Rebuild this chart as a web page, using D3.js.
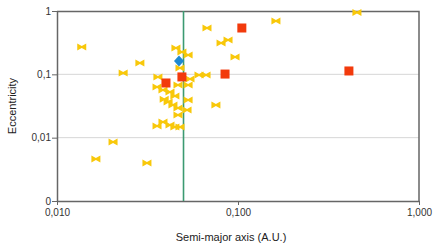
<!DOCTYPE html>
<html>
<head>
<meta charset="utf-8">
<script src="https://cdn.jsdelivr.net/npm/d3@7"></script>
<style>
	body { margin: 0; background: #fff; }
	svg { display: block; font-family: "Liberation Sans", Arial, sans-serif; }
</style>
</head>
<body>
<svg width="436" height="248"></svg>
<script>
// Yellow bowtie planets: semi-major axis (A.U.) and eccentricity
const yellowA = [0.0137, 0.0232, 0.0287, 0.0674, 0.0806, 0.0881, 0.0963, 0.162, 0.454, 0.0755,
	0.0454, 0.049, 0.053, 0.0478, 0.0361, 0.0543, 0.0609, 0.0666, 0.053, 0.0466,
	0.0357, 0.0385, 0.0421, 0.0448, 0.053, 0.0411, 0.0437, 0.0466, 0.0523, 0.0466,
	0.0357, 0.0385, 0.0421, 0.0448, 0.0478, 0.0164, 0.0204, 0.0314, 0.0391];
const yellowE = [0.27, 0.105, 0.151, 0.539, 0.312, 0.348, 0.188, 0.695, 0.95, 0.0328,
	0.261, 0.225, 0.202, 0.126, 0.0908, 0.0844, 0.0976, 0.0976, 0.0679, 0.0679,
	0.063, 0.0566, 0.0526, 0.0455, 0.0394, 0.0366, 0.0328, 0.0294, 0.0273, 0.0228,
	0.0153, 0.0177, 0.0158, 0.0147, 0.0147, 0.0046, 0.00854, 0.00398, 0.0405];

// Red squares
const redA = [0.105, 0.0848, 0.41, 0.04, 0.049];
const redE = [0.539, 0.101, 0.113, 0.073, 0.091];

// Blue diamond
const blueA = [0.0472];
const blueE = [0.162];

// Vertical reference line
const refA = 0.05;

const yTicks = [1, 0.1, 0.01, 0.001];
const yTickLabels = ["1", "0,1", "0,01", "0"];
const xTicks = [0.01, 0.1, 1];
const xTickLabels = ["0,010", "0,100", "1,000"];

const margin = { top: 11, right: 17, bottom: 47, left: 57 },
	width = 436 - margin.left - margin.right,
	height = 248 - margin.top - margin.bottom;

const svg = d3.select("svg")
	.append("g")
	.attr("transform", `translate(${margin.left},${margin.top})`);

const x = d3.scaleLog().domain([0.01, 1]).range([0, width]);
const y = d3.scaleLog().domain([0.001, 1]).range([height, 0]);

// gridlines
svg.selectAll(".grid")
	.data([0.1, 0.01])
	.join("line")
	.attr("x1", 0)
	.attr("x2", width)
	.attr("y1", (d) => y(d))
	.attr("y2", (d) => y(d))
	.attr("stroke", "#d6d6d6")
	.attr("stroke-width", 1);

// frame top/right
svg.append("path")
	.attr("d", `M0,0.5H${width}V${height}`)
	.attr("fill", "none")
	.attr("stroke", "#666")
	.attr("stroke-width", 1.5);

// axes
const yAxis = svg.append("g")
	.call(d3.axisLeft(y).tickValues(yTicks).tickSize(5).tickSizeOuter(0)
		.tickFormat((d, i) => yTickLabels[i]));
const xAxis = svg.append("g")
	.attr("transform", `translate(0,${height})`)
	.call(d3.axisBottom(x).tickValues(xTicks).tickSize(4).tickSizeOuter(0)
		.tickFormat((d, i) => xTickLabels[i]));

[yAxis, xAxis].forEach((g) => {
	g.select(".domain").attr("stroke", "#666").attr("stroke-width", 1.5);
	g.selectAll(".tick line").attr("stroke", "#666");
	g.selectAll(".tick text").attr("fill", "#333").style("font-size", "10px");
});
yAxis.selectAll(".tick text").attr("x", -6);
xAxis.selectAll(".tick text").attr("y", 8);

// green reference line
svg.append("line")
	.attr("x1", x(refA))
	.attr("x2", x(refA))
	.attr("y1", 0)
	.attr("y2", height)
	.attr("stroke", "#3c9a72")
	.attr("stroke-width", 1.6);

// bowtie markers
const bowtie = "M-4.5,-3.5L0,-1L4.5,-3.5L4.5,3.5L0,1L-4.5,3.5Z";
svg.selectAll(".yellow")
	.data(yellowA.map((a, i) => ({ a: a, e: yellowE[i] })))
	.join("path")
	.attr("class", "yellow")
	.attr("d", bowtie)
	.attr("transform", (d) => `translate(${x(d.a)},${y(d.e)})`)
	.attr("fill", "#f8c80a");

svg.selectAll(".red")
	.data(redA.map((a, i) => ({ a: a, e: redE[i] })))
	.join("rect")
	.attr("class", "red")
	.attr("x", (d) => x(d.a) - 4.5)
	.attr("y", (d) => y(d.e) - 4.5)
	.attr("width", 9)
	.attr("height", 9)
	.attr("fill", "#f23a0c");

svg.selectAll(".blue")
	.data(blueA.map((a, i) => ({ a: a, e: blueE[i] })))
	.join("path")
	.attr("class", "blue")
	.attr("d", "M0,-5.5L5,0L0,5.5L-5,0Z")
	.attr("transform", (d) => `translate(${x(d.a)},${y(d.e)})`)
	.attr("fill", "#1f8ad2");

// axis titles
d3.select("svg").append("text")
	.attr("x", 231)
	.attr("y", 241)
	.attr("text-anchor", "middle")
	.attr("fill", "#222")
	.style("font-size", "11px")
	.text("Semi-major axis (A.U.)");

d3.select("svg").append("text")
	.attr("transform", "translate(16,106) rotate(-90)")
	.attr("text-anchor", "middle")
	.attr("fill", "#222")
	.style("font-size", "11px")
	.text("Eccentricity");
</script>
</body>
</html>
